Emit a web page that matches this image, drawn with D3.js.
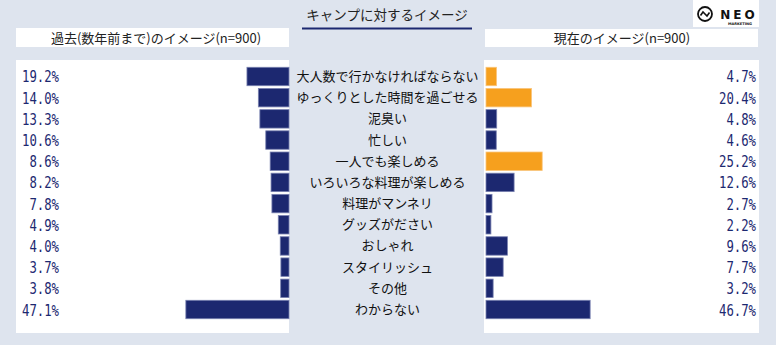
<!DOCTYPE html>
<html><head><meta charset="utf-8">
<script src="https://cdn.jsdelivr.net/npm/d3@7"></script>
<style>html,body{margin:0;padding:0;background:#fff;}svg{display:block;}</style>
</head><body>
<script>
const title = "キャンプに対するイメージ";
const leftHeader = "過去(数年前まで)のイメージ(n=900)";
const rightHeader = "現在のイメージ(n=900)";
const categories = ["大人数で行かなければならない","ゆっくりとした時間を過ごせる","泥臭い","忙しい","一人でも楽しめる","いろいろな料理が楽しめる","料理がマンネリ","グッズがださい","おしゃれ","スタイリッシュ","その他","わからない"];
const pastValues = [19.2,14.0,13.3,10.6,8.6,8.2,7.8,4.9,4.0,3.7,3.8,47.1];
const presentValues = [4.7,20.4,4.8,4.6,25.2,12.6,2.7,2.2,9.6,7.7,3.2,46.7];
const highlighted = ["大人数で行かなければならない","ゆっくりとした時間を過ごせる","一人でも楽しめる"];

const W = 776, H = 347;
const navy = "#1c2870", orange = "#f6a01e", bg = "#dee4ee";
const svg = d3.select("body").append("svg").attr("width", W).attr("height", H);

svg.append("rect").attr("x",0).attr("y",0).attr("width",W).attr("height",345).attr("fill",bg);

// panels
svg.append("rect").attr("x",16).attr("y",60).attr("width",273).attr("height",273).attr("fill","#fff");
svg.append("rect").attr("x",484).attr("y",60).attr("width",275).attr("height",273).attr("fill","#fff");
// header boxes
svg.append("rect").attr("x",16).attr("y",28).attr("width",273).attr("height",19).attr("fill","#fff");
svg.append("rect").attr("x",485).attr("y",29).attr("width",273).attr("height",18).attr("fill","#fff");

const jp = "'Noto Sans CJK JP','Noto Sans CJK SC',sans-serif";
svg.append("text").attr("x",156).attr("y",43).attr("text-anchor","middle")
  .attr("font-family",jp).attr("font-size",13).attr("fill","#222").text(leftHeader);
svg.append("text").attr("x",622).attr("y",43).attr("text-anchor","middle")
  .attr("font-family",jp).attr("font-size",13).attr("fill","#222").text(rightHeader);

// title
svg.append("text").attr("x",387).attr("y",20).attr("text-anchor","middle")
  .attr("font-family",jp).attr("font-size",13.5).attr("fill","#222").text(title);
svg.append("line").attr("x1",302).attr("x2",472).attr("y1",28.5).attr("y2",28.5)
  .attr("stroke",navy).attr("stroke-width",2);

// logo
const logo = svg.append("g");
logo.append("rect").attr("x",693).attr("y",0).attr("width",66).attr("height",27).attr("fill","#fff");
logo.append("circle").attr("cx",705).attr("cy",14).attr("r",7).attr("fill","none").attr("stroke","#111").attr("stroke-width",1.8);
logo.append("path").attr("d","M700.5,15.5 L703,12 L707,16 L709.5,12.5").attr("fill","none").attr("stroke","#111").attr("stroke-width",1.6);
logo.append("text").attr("x",739).attr("y",19).attr("text-anchor","middle").attr("font-family","'DejaVu Sans',sans-serif")
  .attr("font-weight","bold").attr("font-size",12).attr("letter-spacing",3).attr("fill","#111").text("NEO");
logo.append("text").attr("x",740).attr("y",25).attr("text-anchor","middle").attr("font-family","'DejaVu Sans',sans-serif")
  .attr("font-weight","bold").attr("font-size",3.6).attr("fill","#111").text("MARKETING");

// scales
const y = d3.scaleBand().domain(categories).range([65.9, 320.1]).paddingInner(0.13).paddingOuter(0.065);
const xL = d3.scaleLinear().domain([0,50]).range([289, 289-109.5]);
const xR = d3.scaleLinear().domain([0,50]).range([486, 486+111.5]);

const rows = categories.map((c,i)=>({c, past:pastValues[i], present:presentValues[i], hi: highlighted.includes(c)}));

svg.append("g").selectAll("rect").data(rows).join("rect")
  .attr("x", d=>xL(d.past)).attr("y", d=>y(d.c))
  .attr("width", d=>xL(0)-xL(d.past)).attr("height", y.bandwidth())
  .attr("fill", navy).attr("stroke","#7880b0").attr("stroke-width",0.8);

svg.append("g").selectAll("rect").data(rows).join("rect")
  .attr("x", xR(0)).attr("y", d=>y(d.c))
  .attr("width", d=>xR(d.present)-xR(0)).attr("height", y.bandwidth())
  .attr("fill", d=>d.hi?orange:navy).attr("stroke", d=>d.hi?"#f9c47a":"#7880b0").attr("stroke-width",0.8);

const numFont = "'DejaVu Sans Mono',monospace";
function pct(v){ return v.toFixed(1)+"%"; }
svg.append("g").selectAll("text").data(rows).join("text")
  .attr("x",59).attr("y", d=>y(d.c)+y.bandwidth()/2+6)
  .attr("text-anchor","end").attr("font-family",numFont).attr("font-size",16)
  .attr("fill",navy)
  .attr("textLength", d=>pct(d.past).length*7.4).attr("lengthAdjust","spacingAndGlyphs")
  .text(d=>pct(d.past));
svg.append("g").selectAll("text").data(rows).join("text")
  .attr("x",756).attr("y", d=>y(d.c)+y.bandwidth()/2+6)
  .attr("text-anchor","end").attr("font-family",numFont).attr("font-size",16)
  .attr("fill",navy)
  .attr("textLength", d=>pct(d.present).length*7.4).attr("lengthAdjust","spacingAndGlyphs")
  .text(d=>pct(d.present));

svg.append("g").selectAll("text").data(rows).join("text")
  .attr("x",387.5).attr("y", d=>y(d.c)+y.bandwidth()/2+4.5)
  .attr("text-anchor","middle").attr("font-family",jp).attr("font-size",13).attr("fill","#111")
  .text(d=>d.c);
</script>
</body></html>
